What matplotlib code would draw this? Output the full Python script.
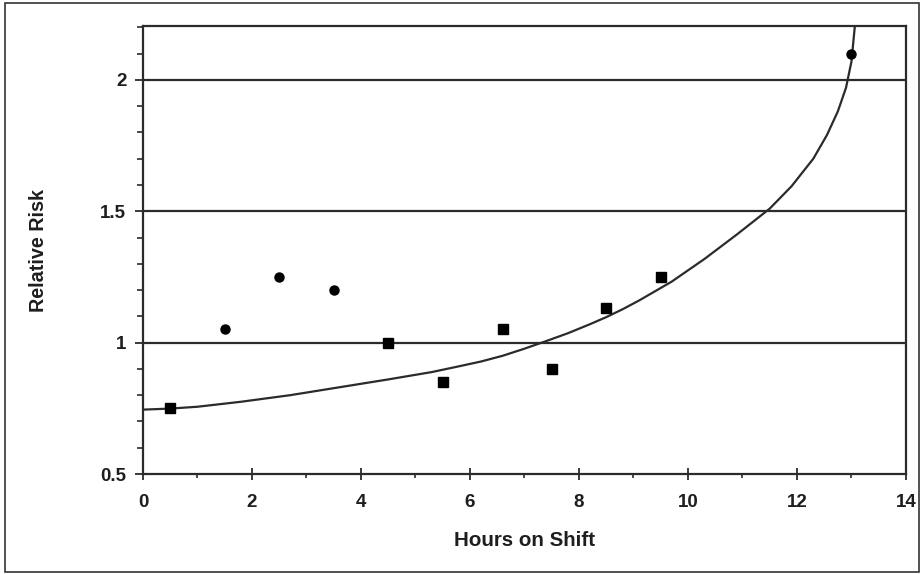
import numpy as np
import matplotlib
matplotlib.use('Agg')
import matplotlib.pyplot as plt
from matplotlib.patches import Rectangle
from matplotlib.ticker import MultipleLocator, FixedLocator, FixedFormatter

# данные
circle_x = [1.5, 2.5, 3.5, 13.0]
circle_y = [1.05, 1.25, 1.2, 2.1]
square_x = [0.5, 4.5, 5.5, 6.6, 7.5, 8.5, 9.5]
square_y = [0.75, 1.0, 0.85, 1.05, 0.9, 1.13, 1.25]

# точки вдоль линии тренда
curve_x = [0.0, 0.5, 1.0, 1.8, 2.7, 3.6, 4.5, 5.3, 5.8, 6.2, 6.6, 7.0, 7.4,
           7.8, 8.2, 8.5, 8.8, 9.1, 9.7, 10.3, 10.9, 11.5, 11.9, 12.3, 12.55,
           12.75, 12.9, 13.0, 13.06]
curve_y = [0.745, 0.749, 0.756, 0.775, 0.80, 0.83, 0.86, 0.888, 0.91, 0.928,
           0.95, 0.977, 1.006, 1.036, 1.07, 1.097, 1.127, 1.160, 1.232, 1.318,
           1.412, 1.51, 1.595, 1.70, 1.79, 1.88, 1.97, 2.07, 2.2]

y_ticks = [0.5, 1, 1.5, 2]
y_labels = ['0.5', '1', '1.5', '2']
x_ticks = [0, 2, 4, 6, 8, 10, 12, 14]
x_labels = ['0', '2', '4', '6', '8', '10', '12', '14']

plt.rcParams['font.family'] = ['Liberation Sans', 'DejaVu Sans']
ink = '#2b2b2b'

fig = plt.figure(figsize=(9.22, 5.74), dpi=100)
ax = fig.add_axes([0.1551, 0.1742, 0.8275, 0.7805])

# горизонтальные линии сетки
for yv in y_ticks[1:]:
    ax.axhline(yv, color=ink, lw=1.6, zorder=1)

ax.plot(curve_x, curve_y, color=ink, lw=1.6, zorder=2, solid_joinstyle='round')
ax.plot(square_x, square_y, 's', color='black', ms=7, zorder=3)
ax.plot(circle_x, circle_y, 'o', color='black', ms=6.5, zorder=3)

ax.set_xlim(0, 14)
ax.set_ylim(0.5, 2.205)

ax.xaxis.set_major_locator(FixedLocator(x_ticks))
ax.xaxis.set_major_formatter(FixedFormatter(x_labels))
ax.xaxis.set_minor_locator(MultipleLocator(1))
ax.yaxis.set_major_locator(FixedLocator(y_ticks))
ax.yaxis.set_major_formatter(FixedFormatter(y_labels))
ax.yaxis.set_minor_locator(MultipleLocator(0.1))

ax.tick_params(axis='x', which='major', direction='inout', length=9, width=1.3,
               color=ink, labelsize=13.5, pad=10)
ax.tick_params(axis='x', which='minor', direction='out', length=3, width=1.2, color=ink)
ax.tick_params(axis='y', which='major', direction='out', length=6, width=1.3,
               color=ink, labelsize=13.5, pad=6)
ax.tick_params(axis='y', which='minor', direction='out', length=4, width=1.2, color=ink)
for lab in ax.get_xticklabels() + ax.get_yticklabels():
    lab.set_fontweight('bold')
    lab.set_color('#1e1e1e')

for s in ax.spines.values():
    s.set_color(ink)
    s.set_linewidth(1.6)

ax.set_xlabel('Hours on Shift', fontsize=14.8, fontweight='bold', color='#1e1e1e', labelpad=14)
ax.set_ylabel('Relative Risk', fontsize=14.2, fontweight='bold', color='#1e1e1e', labelpad=38)

# рамка вокруг рисунка
fig.patches.append(Rectangle((5 / 922, 2 / 574), 914 / 922, 569 / 574, transform=fig.transFigure,
                             fill=False, edgecolor='#333333', lw=1.2))

fig.savefig('out.png', dpi=100)
